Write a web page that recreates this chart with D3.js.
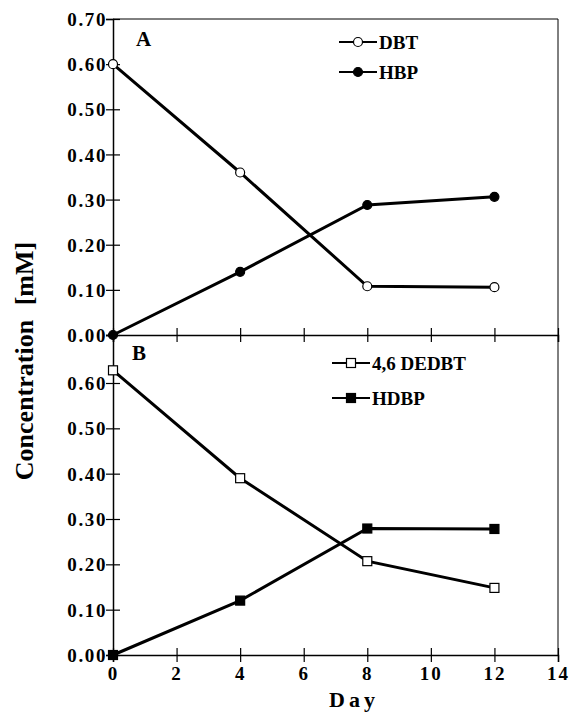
<!DOCTYPE html>
<html>
<head>
<meta charset="utf-8">
<script src="https://cdn.jsdelivr.net/npm/d3@7"></script>
<style>
  body { margin: 0; background: #fff; }
  text { font-family: "Liberation Serif", "Times New Roman", serif; font-weight: bold; fill: #000; }
</style>
</head>
<body>
<div id="chart"></div>
<script>
// data
const days = [0, 4, 8, 12];
const dbt = [0.60, 0.36, 0.108, 0.106];
const hbp = [0.00, 0.14, 0.288, 0.306];
const dedbt = [0.628, 0.39, 0.207, 0.148];
const hdbp = [0.00, 0.12, 0.279, 0.278];
const xTicks = [0, 2, 4, 6, 8, 10, 12, 14];
const yTicksA = [0, 0.1, 0.2, 0.3, 0.4, 0.5, 0.6, 0.7];
const yTicksB = [0, 0.1, 0.2, 0.3, 0.4, 0.5, 0.6];

const width = 574;
const height = 715;
const left = 113, right = 558;
const topA = 19, bottomA = 335, bottomB = 655;

const svg = d3.select("#chart").append("svg")
  .attr("width", width).attr("height", height);

const xScale = d3.scaleLinear().domain([0, 14]).range([left, right]);
const yA = d3.scaleLinear().domain([0, 0.70]).range([bottomA, topA]);
const yB = d3.scaleLinear().domain([0, (bottomB - bottomA) / ((bottomB - 383) / 0.6)]).range([bottomB, bottomA]);

// frames (top + right thin lines)
svg.append("line").attr("x1", left).attr("x2", right).attr("y1", topA).attr("y2", topA)
  .attr("stroke", "#000").attr("stroke-width", 1);
svg.append("line").attr("x1", right).attr("x2", right).attr("y1", topA).attr("y2", bottomB)
  .attr("stroke", "#000").attr("stroke-width", 1);

function yAxis(scale, ticks) {
  const g = svg.append("g").attr("transform", "translate(" + left + ",0)");
  g.call(d3.axisLeft(scale).tickValues(ticks).tickSize(7).tickPadding(0).tickFormat(d3.format(".2f")));
  g.select(".domain").attr("stroke-width", 1.5);
  g.selectAll(".tick line").attr("x2", 7).attr("x1", -7).attr("stroke-width", 1.2);
  g.selectAll(".tick text").attr("x", -6).attr("dy", "0.35em")
    .style("font-size", "19px").style("letter-spacing", "1.6px").style("font-family", "Liberation Serif").style("font-weight", "bold");
  return g;
}
yAxis(yA, yTicksA);
yAxis(yB, yTicksB);

function xAxis(y, labels) {
  const g = svg.append("g").attr("transform", "translate(0," + y + ")");
  g.call(d3.axisBottom(xScale).tickValues(xTicks).tickSize(7).tickPadding(5));
  g.select(".domain").attr("stroke-width", 1.5);
  g.selectAll(".tick line").attr("y1", -7).attr("y2", 7).attr("stroke-width", 1.2);
  g.selectAll(".tick text")
    .style("font-size", "19px").style("letter-spacing", "2px").style("font-family", "Liberation Serif").style("font-weight", "bold")
    .style("display", labels ? null : "none");
  return g;
}
xAxis(bottomA, false);
xAxis(bottomB, true);

function series(y, vals, shape, fill) {
  const pts = days.map((d, i) => [xScale(d), y(vals[i])]);
  svg.append("path").attr("d", d3.line()(pts))
    .attr("fill", "none").attr("stroke", "#000").attr("stroke-width", 3);
  pts.forEach(p => marker(p[0], p[1], shape, fill));
}

function marker(x, y, shape, fill) {
  if (shape === "circle") {
    svg.append("circle").attr("cx", x).attr("cy", y).attr("r", 4.5)
      .attr("fill", fill).attr("stroke", "#000").attr("stroke-width", 1.2);
  } else {
    svg.append("rect").attr("x", x - 4.5).attr("y", y - 4.5).attr("width", 9).attr("height", 9)
      .attr("fill", fill).attr("stroke", "#000").attr("stroke-width", 1.2);
  }
}

series(yA, dbt, "circle", "#fff");
series(yA, hbp, "circle", "#000");
series(yB, dedbt, "square", "#fff");
series(yB, hdbp, "square", "#000");

// legends
function legend(x, y, label, shape, fill) {
  svg.append("line").attr("x1", x).attr("x2", x + 38).attr("y1", y).attr("y2", y)
    .attr("stroke", "#000").attr("stroke-width", 2.2);
  marker(x + 19, y, shape, fill);
  svg.append("text").attr("x", x + 40).attr("y", y).attr("dy", "0.35em")
    .style("font-size", "19px").text(label);
}
legend(339, 42, "DBT", "circle", "#fff");
legend(339, 72, "HBP", "circle", "#000");
legend(332, 363, "4,6 DEDBT", "square", "#fff");
legend(332, 398, "HDBP", "square", "#000");

// panel letters
svg.append("text").attr("x", 136).attr("y", 46).style("font-size", "21px").text("A");
svg.append("text").attr("x", 132).attr("y", 360).style("font-size", "21px").text("B");

// axis titles
svg.append("text").attr("transform", "translate(33," + 361 + ") rotate(-90)")
  .attr("text-anchor", "middle").style("font-size", "26px").style("word-spacing", "8px")
  .text("Concentration [mM]");
svg.append("text").attr("x", 354).attr("y", 707).attr("text-anchor", "middle")
  .style("font-size", "22px").style("letter-spacing", "4px").text("Day");
</script>
</body>
</html>
